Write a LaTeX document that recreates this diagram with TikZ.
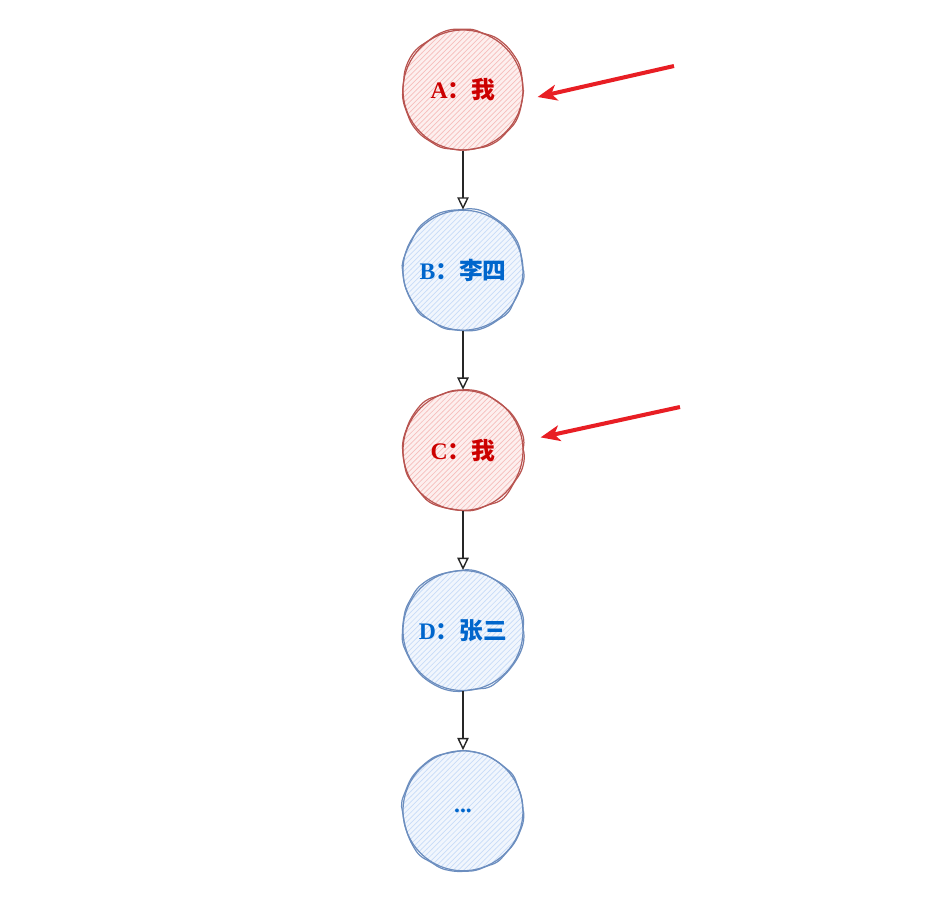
\documentclass[tikz,border=0pt]{standalone}
\usepackage{fontspec}
\setmainfont{Liberation Serif}
\newfontfamily\cjk{Noto Sans CJK SC}
\usetikzlibrary{arrows.meta, patterns, decorations.pathmorphing, positioning}

\definecolor{redline}{RGB}{184,84,80}
\definecolor{redfill}{RGB}{246,190,188}
\definecolor{redtext}{RGB}{204,0,0}
\definecolor{blueline}{RGB}{108,142,191}
\definecolor{bluefill}{RGB}{200,220,248}
\definecolor{bluetext}{RGB}{0,102,204}
\definecolor{pointred}{RGB}{232,30,36}

\begin{document}
\begin{tikzpicture}[x=0.02cm, y=-0.02cm, >=Stealth]

\tikzset{
    person/.style={
        circle, minimum size=2.4cm, inner sep=0pt, line width=0.7pt,
        font=\bfseries\fontsize{13.5}{15}\selectfont,
        postaction={draw, decorate, rounded corners=3pt,
            decoration={random steps, segment length=7pt, amplitude=1pt}}
    },
    me/.style={
        person, draw=redline, text=redtext,
        preaction={fill=redfill!25}, pattern=north east lines, pattern color=redfill
    },
    other/.style={
        person, draw=blueline, text=bluetext,
        preaction={fill=bluefill!25}, pattern=north east lines, pattern color=bluefill
    },
    link/.style={
        draw=black!85, line width=0.8pt, -{Triangle[open, length=7pt, width=6.5pt]}
    },
    pointer/.style={
        draw=pointred, line width=2.3pt, -{Stealth[length=11pt, width=9pt, inset=3pt]}
    }
}

% Canvas
\useasboundingbox (0,0) rectangle (931,907);

% --- the chain of people ---
\node[me] (A) at (463, 90) {A\cjk：我};
\node[other, below=1.18cm of A] (B) {B\cjk：李四};
\node[me, below=1.18cm of B] (C) {C\cjk：我};
\node[other, below=1.18cm of C] (D) {D\cjk：张三};
\node[other, below=1.18cm of D] (E) {...};

% Links
\draw[link] (A) -- (B);
\draw[link] (B) -- (C);
\draw[link] (C) -- (D);
\draw[link] (D) -- (E);

% Pointers to "me"
\coordinate (pa) at (674, 66);
\coordinate (pc) at (680, 407);
\draw[pointer] (pa) -- ([shift={(14,7)}]A.east);
\draw[pointer] (pc) -- ([shift={(17,-13)}]C.east);

\end{tikzpicture}
\end{document}
